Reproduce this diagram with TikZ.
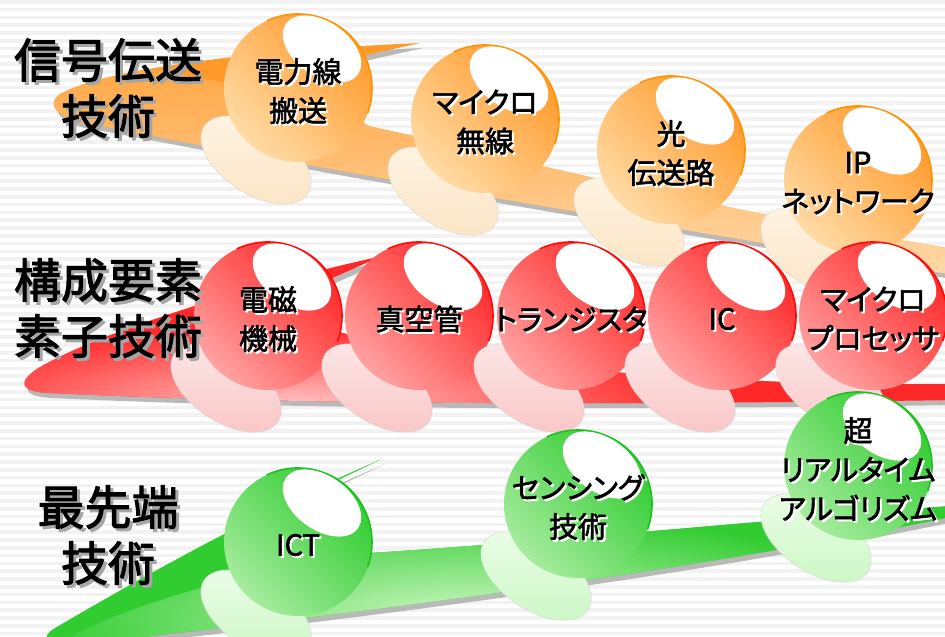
\documentclass[tikz,border=0pt]{standalone}
\usepackage{fontspec}
\setmainfont{Noto Sans CJK JP}[RawFeature=+palt]
\newfontfamily\jptitre{Noto Sans CJK JP}[RawFeature=+palt, FakeBold=2]
\newfontfamily\jpboule{Noto Sans CJK JP}[RawFeature=+palt, FakeBold=2]

\definecolor{orfonce}{HTML}{FF9A2A}
\definecolor{orclair}{HTML}{FFDBA6}
\definecolor{orbord}{HTML}{FF9200}
\definecolor{orpale}{HTML}{FFE6C6}
\definecolor{ortacheA}{HTML}{FEF3E2}
\definecolor{ortacheB}{HTML}{FBE5C6}
\definecolor{rgfonce}{HTML}{FF2828}
\definecolor{rgclair}{HTML}{FFA2A2}
\definecolor{rgbord}{HTML}{FF0A0A}
\definecolor{rgpale}{HTML}{FFC4C4}
\definecolor{rgtacheA}{HTML}{FDE6E6}
\definecolor{rgtacheB}{HTML}{F9C6C6}
\definecolor{vtfonce}{HTML}{30CC30}
\definecolor{vtclair}{HTML}{A6EC9E}
\definecolor{vtbord}{HTML}{1FBF1F}
\definecolor{vtpale}{HTML}{D2F8C6}
\definecolor{vttacheA}{HTML}{EAFDE6}
\definecolor{vttacheB}{HTML}{CDF7C6}

% Traînées (coordonnées en pixels, y vers le bas)
\newcommand{\cheminOr}{(420,43) .. controls (260,50) and (110,68) .. (62,93)
  .. controls (42,104) and (60,122) .. (100,126)
  .. controls (420,188) and (700,232) .. (960,276) -- (960,250)
  .. controls (700,208) and (480,150) .. (368,126) -- (330,95) -- (362,56) -- cycle}
\newcommand{\cheminRouge}{(382,256) .. controls (260,283) and (110,328) .. (42,366)
  .. controls (15,382) and (20,392) .. (50,393)
  .. controls (300,405) and (600,405) .. (960,400) -- (960,384)
  .. controls (700,386) and (450,365) .. (300,322) -- (330,279) -- cycle}
\newcommand{\cheminVert}{(382,459) .. controls (250,515) and (120,590) .. (55,628)
  .. controls (40,637) and (45,645) .. (70,645)
  .. controls (350,615) and (700,570) .. (960,515) -- (960,505)
  .. controls (750,522) and (450,550) .. (330,555) -- (300,520) -- (338,480) -- cycle}

% Boule : nom, x, y, couleur, texte
\newcommand{\boule}[5]{%
  % ombre
  \shade[tache, top color=#4tacheA, bottom color=#4tacheB, rotate around={-33:(#2-42,#3+72)}]
    (#2-42,#3+72) ellipse[x radius=62, y radius=34];
  % boule
  \shade[top color=#4fonce, bottom color=#4clair, shading angle=-45] (#2,#3) circle[radius=74];
  \draw[#4bord, line width=1.6] (#2,#3) ++(-115:74) arc[start angle=-115, end angle=20, radius=74];
  % reflet
  \fill[white, rotate around={-35:(#2+24,#3-39)}] (#2+24,#3-39) ellipse[x radius=44, y radius=27];
  % texte
  \node[btexteombre] (#1o) at (#2+2,#3+5) {#5};
  \node[btexte] (#1) at (#2,#3+3) {#5};
}

\begin{document}
\begin{tikzpicture}[x=1pt, y=-1pt,
    raie/.style={fill=black!5},
    ombretrainee/.style={fill=gray!55},
    tache/.style={draw=gray!35, densely dotted, line width=0.8},
    titre/.style={font=\jptitre\fontsize{47}{56}\selectfont, align=center, inner sep=0},
    titreombre/.style={titre, text=gray!70},
    btexte/.style={font=\jpboule\fontsize{29}{39}\selectfont, align=center, inner sep=0},
    btexteombre/.style={btexte, text=white}]
  \useasboundingbox (0,0) rectangle (945,637);
  \clip (0,0) rectangle (945,637);

  % Fond rayé
  \fill[white] (0,0) rectangle (945,637);
  \foreach \i in {0,...,82}
    \fill[raie] (0,\i*7.8) rectangle (945,\i*7.8+3.6);

  % Traînée orange
  \fill[ombretrainee, shift={(3,5)}] \cheminOr;
  \begin{scope}
    \clip \cheminOr;
    \fill[orfonce] (0,0) rectangle (945,637);
    \begin{scope}[rotate around={-10.6:(500,180)}]
      \shade[top color=orfonce, bottom color=orpale] (-200,135) rectangle (1200,210);
      \fill[orpale] (-200,210) rectangle (1200,400);
    \end{scope}
  \end{scope}

  % Boules orange
  \boule{cpl}{298}{88}{or}{電力線\\搬送}
  \boule{micro}{485}{119}{or}{マイクロ\\無線}
  \boule{optique}{671}{150}{or}{光\\伝送路}
  \boule{ip}{858}{180}{or}{IP\\ネットワーク}

  % Traînée rouge
  \fill[ombretrainee, shift={(3,5)}] \cheminRouge;
  \begin{scope}
    \clip \cheminRouge;
    \fill[rgfonce] (0,0) rectangle (945,637);
    \shade[inner color=rgpale, outer color=rgfonce]
      (300,405) ellipse[x radius=400, y radius=80];
  \end{scope}

  % Boules rouges
  \boule{relais}{268}{316}{rg}{電磁\\機械}
  \boule{tube}{419}{316}{rg}{真空管}
  \boule{transistor}{571}{316}{rg}{トランジスタ}
  \boule{ic}{722}{316}{rg}{IC}
  \boule{mpu}{873}{316}{rg}{マイクロ\\プロセッサ}

  % Traînée verte
  \fill[ombretrainee, shift={(3,5)}] \cheminVert;
  \begin{scope}
    \clip \cheminVert;
    \fill[vtfonce] (0,0) rectangle (945,637);
    \shade[inner color=vtpale, outer color=vtfonce, rotate around={8:(470,615)}]
      (470,615) ellipse[x radius=440, y radius=80];
  \end{scope}

  % Boules vertes
  \boule{ict}{298}{542}{vt}{ICT}
  \boule{capteur}{578}{504}{vt}{センシング\\技術}
  \boule{algo}{858}{466}{vt}{超\\リアルタイム\\アルゴリズム}

  % Titres
  \node[titreombre] (signalo) at (111,91) {信号伝送\\技術};
  \node[titre] (signal) at (108,88) {信号伝送\\技術};
  \node[titreombre] (elemento) at (111,311) {構成要素\\素子技術};
  \node[titre] (element) at (108,308) {構成要素\\素子技術};
  \node[titreombre] (avanceo) at (111,538) {最先端\\技術};
  \node[titre] (avance) at (108,535) {最先端\\技術};
\end{tikzpicture}
\end{document}
